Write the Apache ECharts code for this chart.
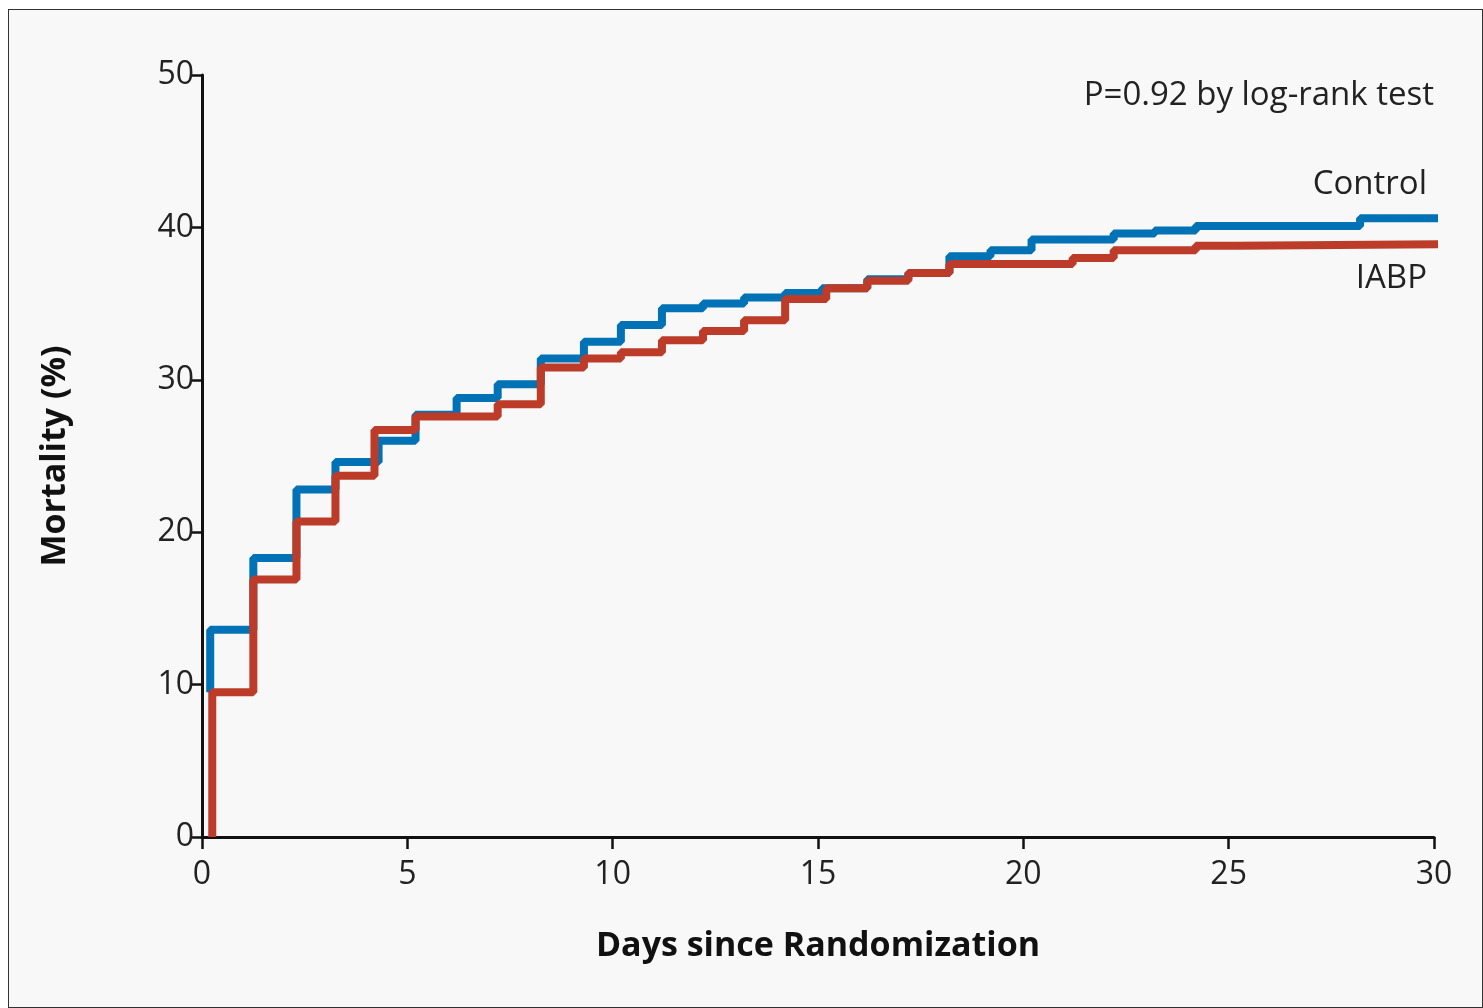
<!DOCTYPE html>
<html>
<head>
<meta charset="utf-8">
<script src="https://cdn.jsdelivr.net/npm/echarts@6/dist/echarts.min.js"></script>
<style>
html,body{margin:0;padding:0;background:#fff;}
#main{position:absolute;left:8px;top:9px;width:1475px;height:999px;background:#f8f8f8;border:1.5px solid #333;box-sizing:border-box;}
</style>
</head>
<body>
<div id="main"></div>
<script>
// Kaplan-Meier steps: [day, mortality %]
var controlData = [[0.2,9.5],[0.2,13.6],[1.25,18.3],[2.3,22.8],[3.25,24.6],[4.3,26.0],[5.2,27.7],[6.2,28.8],[7.2,29.7],[8.25,31.4],[9.3,32.5],[10.2,33.6],[11.2,34.7],[12.2,35.0],[13.2,35.4],[14.2,35.7],[15.1,36.0],[16.2,36.6],[17.2,37.0],[18.2,38.1],[19.2,38.5],[20.2,39.2],[22.2,39.6],[23.2,39.8],[24.2,40.1],[28.2,40.6],[30.3,40.6]];
var iabpData = [[0.25,0],[0.25,9.5],[1.25,16.9],[2.3,20.7],[3.25,23.7],[4.2,26.7],[5.2,27.6],[7.2,28.4],[8.25,30.8],[9.3,31.4],[10.2,31.8],[11.2,32.6],[12.2,33.2],[13.2,33.9],[14.2,35.3],[15.2,36.0],[16.2,36.5],[17.2,37.0],[18.2,37.6],[21.2,38.0],[22.2,38.5],[24.2,38.8],[25.2,38.9],[30.3,38.9]];

var myChart = echarts.init(document.getElementById('main'));
var font = 'Open Sans';
option = {
    backgroundColor: '#f8f8f8',
    animation: false,
    grid: {left: 193, right: 48, top: 65, bottom: 170},
    xAxis: {
        type: 'value', min: 0, max: 30, interval: 5,
        name: 'Days since Randomization', nameLocation: 'middle', nameGap: 92,
        nameTextStyle: {fontFamily: font, fontSize: 34, fontWeight: 'bold', color: '#111'},
        axisLine: {lineStyle: {color: '#111', width: 3}},
        axisTick: {length: 12, lineStyle: {color: '#111', width: 2.5}},
        axisLabel: {fontFamily: font, fontSize: 32, color: '#222', margin: 22},
        splitLine: {show: false}
    },
    yAxis: {
        type: 'value', min: 0, max: 50, interval: 10,
        name: 'Mortality (%)', nameLocation: 'middle', nameGap: 130,
        nameTextStyle: {fontFamily: font, fontSize: 34, fontWeight: 'bold', color: '#111'},
        axisLine: {show: true, lineStyle: {color: '#111', width: 3}},
        axisTick: {show: true, length: 12, lineStyle: {color: '#111', width: 2.5}},
        axisLabel: {fontFamily: font, fontSize: 32, color: '#222', margin: 8},
        splitLine: {show: false}
    },
    graphic: [
        {type: 'text', right: 48, top: 69, style: {text: 'P=0.92 by log-rank test', font: '33px "Open Sans"', fill: '#222'}},
        {type: 'text', right: 55, top: 158, style: {text: 'Control', font: '33px "Open Sans"', fill: '#222'}},
        {type: 'text', right: 55, top: 252, style: {text: 'IABP', font: '33px "Open Sans"', fill: '#222'}}
    ],
    series: [
        {name: 'Control', type: 'line', step: 'end', data: controlData, showSymbol: false, clip: false,
         lineStyle: {color: '#0072b5', width: 8}, z: 2},
        {name: 'IABP', type: 'line', step: 'end', data: iabpData, showSymbol: false, clip: false,
         lineStyle: {color: '#bc3c29', width: 8}, z: 3}
    ]
};
myChart.setOption(option);
</script>
</body>
</html>
